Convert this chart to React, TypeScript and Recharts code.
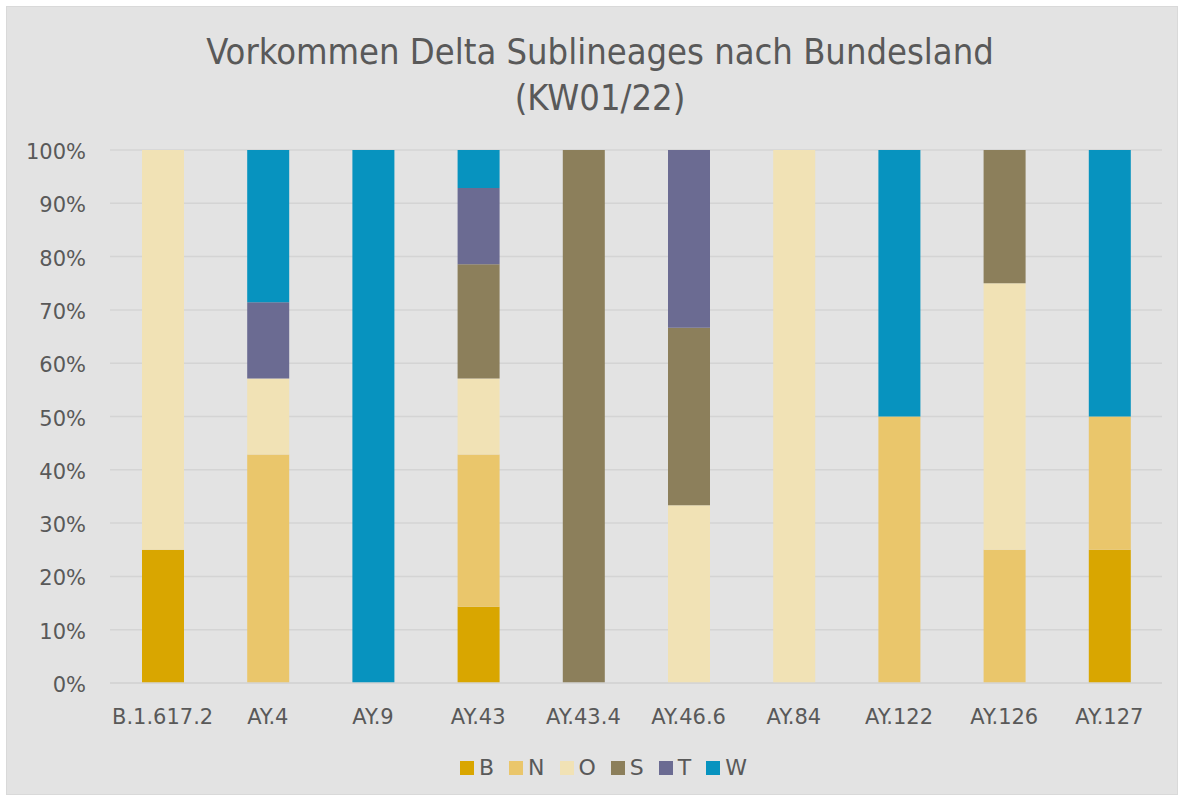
import { BarChart, Bar, XAxis, YAxis, CartesianGrid } from 'recharts';

// Delta sublineages (categories) and counts per Bundesland, read as shares from the picture
const categories = ['B.1.617.2', 'AY.4', 'AY.9', 'AY.43', 'AY.43.4', 'AY.46.6', 'AY.84', 'AY.122', 'AY.126', 'AY.127'];
const B = [1, 0, 0, 2, 0, 0, 0, 0, 0, 1];
const N = [0, 3, 0, 4, 0, 0, 0, 1, 1, 1];
const O = [3, 1, 0, 2, 0, 1, 1, 0, 2, 0];
const S = [0, 0, 0, 3, 1, 1, 0, 0, 1, 0];
const T = [0, 1, 0, 2, 0, 1, 0, 0, 0, 0];
const W = [0, 2, 1, 1, 0, 0, 0, 1, 0, 2];
const yTicks = [0, 0.1, 0.2, 0.3, 0.4, 0.5, 0.6, 0.7, 0.8, 0.9, 1];

const series = [
  { key: 'B', values: B, color: '#D9A600' },
  { key: 'N', values: N, color: '#EAC66B' },
  { key: 'O', values: O, color: '#F1E2B5' },
  { key: 'S', values: S, color: '#8C7F5B' },
  { key: 'T', values: T, color: '#6B6B92' },
  { key: 'W', values: W, color: '#0793BF' },
];

const data = categories.map((name, i) => {
  const row: Record<string, string | number> = { name };
  series.forEach((s) => (row[s.key] = s.values[i]));
  return row;
});

const TITLE_FONT = "'DejaVu Sans Condensed', 'DejaVu Sans', sans-serif";
const FONT = "'DejaVu Sans', sans-serif";
const TEXT = '#595959';

const XTick = ({ x, y, payload }: any) => (
  <text x={x} y={y + 33} textAnchor="middle" fill={TEXT} style={{ fontFamily: FONT, fontSize: 21 }}>
    {payload.value}
  </text>
);

const YTick = ({ x, y, payload }: any) => (
  <text x={x - 16} y={y + 9} textAnchor="end" fill={TEXT} style={{ fontFamily: FONT, fontSize: 21 }}>
    {`${Math.round(payload.value * 100)}%`}
  </text>
);

export default function App() {
  return (
    <div style={{ position: 'absolute', left: 0, top: 0, width: 1184, height: 801, background: '#fff' }}>
      <div
        style={{
          position: 'absolute', left: 6, top: 6, width: 1170, height: 787,
          background: '#E3E3E3', border: '1px solid #D9D9D9',
        }}
      />
      <div
        style={{
          position: 'absolute', left: 0, top: 29, width: 1200, textAlign: 'center',
          fontFamily: TITLE_FONT, fontSize: 36, lineHeight: '46px', color: TEXT,
        }}
      >
        Vorkommen Delta Sublineages nach Bundesland
        <br />
        (KW01/22)
      </div>
      <div style={{ position: 'absolute', left: 0, top: 0 }}>
        <BarChart
          width={1184}
          height={801}
          data={data}
          stackOffset="expand"
          barSize={42}
          margin={{ top: 150, right: 22, bottom: 0, left: 0 }}
        >
          <CartesianGrid vertical={false} stroke="#D4D4D4" strokeWidth={1.5} />
          <XAxis
            dataKey="name"
            axisLine={{ stroke: '#D4D4D4', strokeWidth: 1.5 }}
            tickLine={false}
            height={118}
            tick={<XTick />}
            interval={0}
          />
          <YAxis
            width={110}
            domain={[0, 1]}
            ticks={yTicks}
            axisLine={false}
            tickLine={false}
            tick={<YTick />}
          />
          {series.map((s) => (
            <Bar key={s.key} dataKey={s.key} stackId="a" fill={s.color} isAnimationActive={false} />
          ))}
        </BarChart>
      </div>
      <div
        style={{
          position: 'absolute', left: 0, top: 754, width: 1222, display: 'flex', justifyContent: 'center',
          fontFamily: FONT, fontSize: 22, lineHeight: '28px', color: TEXT,
        }}
      >
        {series.map((s) => (
          <div key={s.key} style={{ display: 'flex', alignItems: 'center', marginRight: 15 }}>
            <span style={{ width: 14, height: 14, background: s.color, display: 'inline-block', marginRight: 5 }} />
            <span>{s.key}</span>
          </div>
        ))}
      </div>
    </div>
  );
}
